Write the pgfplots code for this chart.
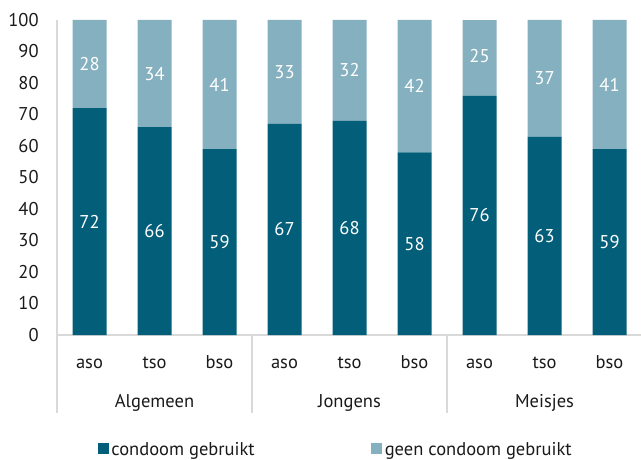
\documentclass[border=0pt]{standalone}
\usepackage{fontspec}
\setmainfont{PT Sans}
\usepackage{pgfplots}
\pgfplotsset{compat=1.18}
\definecolor{darkbar}{HTML}{035E7A}
\definecolor{lightbar}{HTML}{84B0C0}
\definecolor{sepline}{HTML}{D9D9D9}
\definecolor{txt}{HTML}{1A1A1A}
\pgfplotsset{
  /pgf/number format/assume math mode=true,
}
\begin{document}
\fontsize{18.5bp}{22bp}\selectfont
\begin{tikzpicture}[font=\fontsize{18.5bp}{22bp}\selectfont]
\begin{axis}[
  name=ax,
  at={(0,0)}, anchor=south west,
  scale only axis, width=585bp, height=315bp,
  ybar stacked, bar width=34bp,
  xmin=-0.5, xmax=8.5, ymin=0, ymax=100,
  xtick={0,...,8},
  xticklabels={aso,tso,bso,aso,tso,bso,aso,tso,bso},
  ytick={0,10,...,100},
  axis line style={draw=none},
  major tick length=0pt,
  tick label style={text=txt, font=\fontsize{18.5bp}{22bp}\selectfont},
  yticklabel style={anchor=east, xshift=-12bp},
  xticklabel style={anchor=base, yshift=-33bp},
  clip=false,
  nodes near coords,
  every node near coord/.style={anchor=center, text=white, font=\fontsize{18.5bp}{22bp}\selectfont},
  legend columns=2,
  legend style={at={(0.477,-0.367)}, anchor=center, draw=none, inner sep=0pt, fill=none,
    font=\fontsize{18.5bp}{22bp}\selectfont, text=txt,
    /tikz/every even column/.append style={column sep=114bp},
    nodes={inner xsep=2.5bp}},
  legend image code/.code={\fill[#1,draw=none] (0bp,-3bp) rectangle (11bp,8bp);},
]
\addplot[fill=darkbar, draw=none] coordinates {(0,72) (1,66) (2,59) (3,67) (4,68) (5,58) (6,76) (7,63) (8,59)};
\addlegendentry{condoom gebruikt}
\addplot[fill=lightbar, draw=none] coordinates {(0,28) (1,34) (2,41) (3,33) (4,32) (5,42) (6,25) (7,37) (8,41)};
\addlegendentry{geen condoom gebruikt}
\draw[sepline, line width=1.2bp] (axis cs:-0.5,0) -- (axis cs:8.5,0);
\draw[sepline, line width=1.2bp] (axis cs:-0.5,100) -- ([yshift=-78bp]axis cs:-0.5,0);
\draw[sepline, line width=1.2bp] (axis cs:2.5,0) -- ([yshift=-78bp]axis cs:2.5,0);
\draw[sepline, line width=1.2bp] (axis cs:5.5,0) -- ([yshift=-78bp]axis cs:5.5,0);
\draw[sepline, line width=1.2bp] (axis cs:8.5,0) -- ([yshift=-78bp]axis cs:8.5,0);
\node[anchor=base, text=txt, yshift=-72bp] at (axis cs:1,0) {Algemeen};
\node[anchor=base, text=txt, yshift=-72bp] at (axis cs:4,0) {Jongens};
\node[anchor=base, text=txt, yshift=-72bp] at (axis cs:7,0) {Meisjes};
\end{axis}
% the reference cuts the 101% stack off at the 100 line
\fill[white] ([xshift=385bp]ax.north west) rectangle ([xshift=460bp,yshift=6bp]ax.north west);
\pgfresetboundingbox
\path (-57bp,-125bp) rectangle (584bp,335bp);
\end{tikzpicture}
\end{document}
